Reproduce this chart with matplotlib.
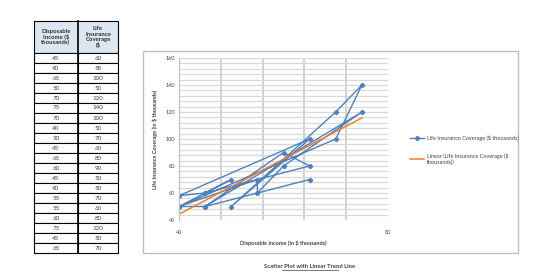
import numpy as np
import matplotlib.pyplot as plt
from matplotlib.patches import Rectangle

plt.rcParams['font.family'] = ['Lato', 'DejaVu Sans']

income = [45, 40, 65, 50, 70, 75, 70, 40, 50, 45, 65, 60, 45, 40, 55, 55, 60, 75, 45, 65]
coverage = [60, 58, 100, 50, 120, 140, 100, 50, 70, 60, 80, 90, 50, 50, 70, 60, 80, 120, 50, 70]
header_income = "Disposable\nIncome (\\$\nthousands)"
header_cov = "Life\nInsurance\nCoverage\n(\\$"

W, H = 560, 273
fig = plt.figure(figsize=(W / 100, H / 100), dpi=100)


def fx(px):
    return px / W


def fy(py):
    return 1 - py / H


# ---- table on the left ----
tx0, tx1, tx2 = 34, 78, 118
ty0, ty_h = 21, 53
row_h = 10
txt_col = '#404040'
fig.patches.append(Rectangle((fx(tx0), fy(ty_h)), fx(tx2 - tx0), (ty_h - ty0) / H,
                             transform=fig.transFigure, facecolor='#dce6f1',
                             edgecolor='black', lw=0.8))
fig.text(fx((tx0 + tx1) / 2), fy((ty0 + ty_h) / 2), header_income, ha='center', va='center',
         fontsize=4.3, fontweight='bold', color='#303030', linespacing=1.05)
fig.text(fx((tx1 + tx2) / 2), fy((ty0 + ty_h) / 2), header_cov, ha='center', va='center',
         fontsize=4.3, fontweight='bold', color='#303030', linespacing=1.05)
for i, (a, b) in enumerate(zip(income, coverage)):
    top = ty_h + i * row_h
    for (l, r, v) in [(tx0, tx1, a), (tx1, tx2, b)]:
        fig.patches.append(Rectangle((fx(l), fy(top + row_h)), fx(r - l), row_h / H,
                                     transform=fig.transFigure, facecolor='white',
                                     edgecolor='black', lw=0.8))
        fig.text(fx((l + r) / 2), fy(top + row_h / 2), str(v), ha='center', va='center',
                 fontsize=4.5, color=txt_col)
fig.lines.append(plt.Line2D([fx(tx1), fx(tx1)], [fy(ty0), fy(ty_h + 20 * row_h)],
                            transform=fig.transFigure, color='black', lw=1.2))

# ---- chart border ----
border = Rectangle((fx(143), fy(253)), fx(518 - 143), (253 - 51) / H,
                   transform=fig.transFigure, facecolor='white',
                   edgecolor='#bfbfbf', lw=1.0, zorder=-1)
fig.patches.append(border)

ax = fig.add_axes([fx(179), fy(220), fx(388 - 179), (220 - 58) / H])
ax.patch.set_alpha(0)
ax.set_xlim(40, 80)
ax.set_ylim(40, 160)
ax.set_xticks([40, 80])
ax.set_xticks(np.arange(40, 81, 8), minor=True)
ax.set_yticks(np.arange(40, 161, 20))
ax.set_yticks(np.arange(40, 161, 4), minor=True)
ax.grid(axis='y', which='both', color='#d9d9d9', lw=0.9)
ax.grid(axis='x', which='minor', color='#c8c8c8', lw=1.2)
ax.set_axisbelow(True)
for s in ['top', 'right', 'bottom']:
    ax.spines[s].set_visible(False)
ax.spines['left'].set_color('#bfbfbf')
ax.tick_params(axis='both', which='both', length=0, labelsize=4, colors='#404040', pad=3)
ax.tick_params(axis='x', pad=7)

ax.plot(income, coverage, color='#4f81bd', lw=1.0, marker='D', ms=2.2,
        label='Life Insurance Coverage (\\$ thousands)')
k, b = np.polyfit(income, coverage, 1)
xs = np.array([min(income), max(income)])
ax.plot(xs, k * xs + b, color='#ed7d31', lw=1.1,
        label='Linear (Life Insurance Coverage (\\$\nthousands))')

ax.set_xlabel('Disposable Income (in \\$ thousands)', fontsize=4, color='#404040',
              fontweight='bold', labelpad=1)
ax.xaxis.set_label_coords(0.5, -0.125)
ax.set_ylabel('Life Insurance Coverage (in \\$ thousands)', fontsize=4, color='#404040',
              fontweight='bold')
ax.yaxis.set_label_coords(-0.1, 0.5)

ax.legend(loc='upper left', bbox_to_anchor=(fx(405), fy(130)), bbox_transform=fig.transFigure,
          frameon=False, fontsize=4, labelcolor='#404040', handlelength=2.5,
          labelspacing=2.2, handletextpad=0.5)

fig.text(fx(310), fy(266), 'Scatter Plot with Linear Trend Line', ha='center',
         va='center', fontsize=4.2, color='#404040', fontweight='bold')
fig.lines.append(plt.Line2D([fx(282), fx(338)], [fy(269.5), fy(269.5)],
                            transform=fig.transFigure, color='#404040', lw=0.5))

fig.savefig('out.png', dpi=100)
